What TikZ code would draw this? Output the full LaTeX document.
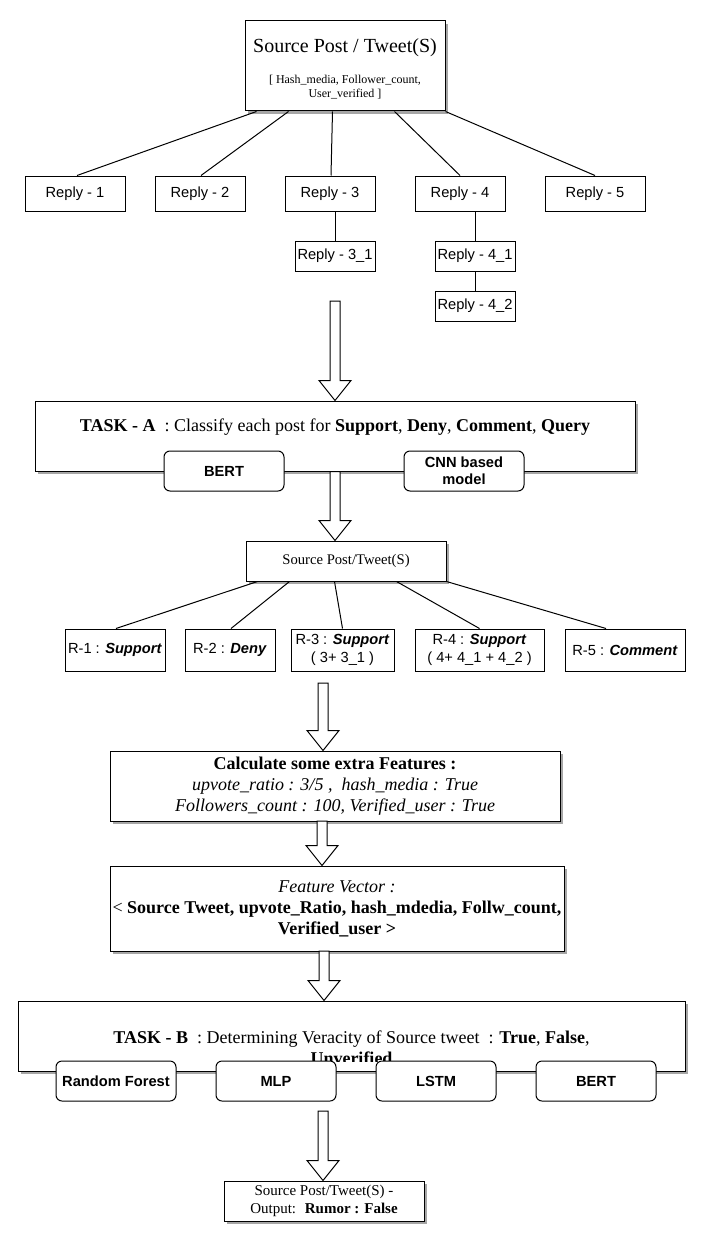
\documentclass[tikz,border=0pt]{standalone}
\usepackage{fontspec}
\setmainfont{Liberation Serif}
\setsansfont{Liberation Sans}
\usetikzlibrary{calc,shadows}
\tikzset{
  plain/.style={draw, line width=0.75pt, fill=white, inner sep=0pt, align=center},
  shad/.style={plain, drop shadow={shadow xshift=2.5pt, shadow yshift=-2.5pt, fill=black!35, opacity=1}},
  reply/.style={plain, font=\sffamily\fontsize{11}{13}\selectfont},
  model/.style={plain, rounded corners=4.5pt, font=\sffamily\bfseries\fontsize{11}{12.5}\selectfont},
  serifbig/.style={font=\fontsize{13.5}{15.75}\selectfont},
  link/.style={line width=0.75pt},
  hollow/.style={draw, line width=0.75pt, fill=white},
  sz/.style 2 args={minimum width=#1*0.75pt, minimum height=#2*0.75pt},
}
\newcommand\harrow[2]{\path[hollow] let \p1=(#1), \p2=(#2) in
  (\x1-3.75pt,\y1) -- (\x1+3.75pt,\y1) -- (\x1+3.75pt,\y2+15pt) -- (\x1+12pt,\y2+15pt)
  -- (\x1,\y2) -- (\x1-12pt,\y2+15pt) -- (\x1-3.75pt,\y2+15pt) -- cycle;}
\begin{document}
\begin{tikzpicture}[x=0.75pt,y=-0.75pt]
\useasboundingbox (0,0) rectangle (711,1259);
\fill[white] (0,0) rectangle (711,1259);

% top source
\node[shad, sz={200}{90}] (src) at (345,66) {};
\node[align=center, font=\fontsize{9}{10.5}\selectfont] (srct) at (345,69)
  {{\fontsize{15}{18}\selectfont Source Post / Tweet(S)}\\[13pt]
   [ Hash\_media, Follower\_count,\\ User\_verified ]};

% replies
\node[reply, sz={100}{35}] (r1) at (75,193.5) {Reply - 1};
\node[reply, sz={90}{35}] (r2) at (200,193.5) {Reply - 2};
\node[reply, sz={90}{35}] (r3) at (330,193.5) {Reply - 3};
\node[reply, sz={90}{35}] (r4) at (460,193.5) {Reply - 4};
\node[reply, sz={100}{35}] (r5) at (595,193.5) {Reply - 5};
\node[reply, sz={80}{30}] (r31) at (335,256) {Reply - 3\_1};
\node[reply, sz={80}{30}] (r41) at (475,256) {Reply - 4\_1};
\node[reply, sz={80}{30}] (r42) at (475,306) {Reply - 4\_2};

\draw[link] ($(src.south west)+(12,0)$) -- ($(r1.north)+(2,0)$);
\draw[link] ($(src.south west)+(44,0)$) -- ($(r2.north)+(1,0)$);
\draw[link] ($(src.south west)+(88,0)$) -- ($(r3.north)+(1,0)$);
\draw[link] ($(src.south west)+(150,0)$) -- (r4.north);
\draw[link] (src.south east) -- (r5.north);
\draw[link] (r31.north |- r3.south) -- (r31.north);
\draw[link] (r41.north |- r4.south) -- (r41.north);
\draw[link] (r41.south) -- (r42.north);

% task A
\node[shad, sz={600}{70}] (taskA) at (335,436) {};
\node[serifbig] (taskAt) at (335,427)
  {\textbf{TASK - A}~ : Classify each post for \textbf{Support}, \textbf{Deny}, \textbf{Comment}, \textbf{Query}};
\node[model, sz={120}{40}] (bertA) at (224,471) {BERT};
\node[model, sz={120}{40}] (cnn) at (464,471) {CNN based\\model};

\coordinate (a1s) at (335,301);
\harrow{a1s}{a1s |- taskA.north}

% middle source
\node[shad, sz={200}{40}, font=\fontsize{11}{13}\selectfont] (msrc) at (346,561) {Source Post/Tweet(S)};
\harrow{taskA.south}{taskA.south |- msrc.north}

\node[reply, sz={100}{42}] (s1) at (115,650) {R-1 : \textbf{\textit{Support}}};
\node[reply, sz={90}{42}] (s2) at (230,650) {R-2 : \textbf{\textit{Deny}}};
\node[reply, sz={103}{42}] (s3) at (342.5,650) {R-3 : \textbf{\textit{Support}}\\( 3+ 3\_1 )};
\node[reply, sz={129}{42}] (s4) at (479.5,650) {R-4 : \textbf{\textit{Support}}\\( 4+ 4\_1 + 4\_2 )};
\node[reply, sz={120}{42}] (s5) at (625,650) {R-5 : \textbf{\textit{Comment}}};

\draw[link] ($(msrc.south west)+(12,0)$) -- ($(s1.north)+(1,0)$);
\draw[link] ($(msrc.south west)+(44,0)$) -- ($(s2.north)+(1,0)$);
\draw[link] ($(msrc.south west)+(89,0)$) -- (s3.north);
\draw[link] ($(msrc.south west)+(151,0)$) -- (s4.north);
\draw[link] (msrc.south east) -- ($(s5.north)+(-19,0)$);

% features
\node[shad, sz={450}{70}, serifbig] (feat) at (335,786)
  {\textbf{Calculate some extra Features :}\\
   \textit{upvote\_ratio : 3/5 ,~ hash\_media : True}\\
   \textit{Followers\_count : 100, Verified\_user : True}};
\coordinate (a3s) at (323,683);
\harrow{a3s}{a3s |- feat.north}

\node[shad, sz={454}{85}, serifbig] (fvec) at (337,908.5)
  {\textit{Feature Vector :}\\
   < \textbf{Source Tweet, upvote\_Ratio, hash\_mdedia, Follw\_count,}\\
   \textbf{Verified\_user >}};
\coordinate (a4s) at (322,821);
\harrow{a4s}{a4s |- fvec.north}

% task B
\node[shad, sz={667}{70}] (taskB) at (351.5,1036) {};
\begin{scope}
\clip (18,1001) rectangle (685,1061);
\node[serifbig, align=center] (taskBt) at (351.5,1048)
  {\textbf{TASK - B}~ : Determining Veracity of Source tweet~ : \textbf{True}, \textbf{False},\\
   \textbf{Unverified}};
\end{scope}
\coordinate (a5s) at (324,951);
\harrow{a5s}{a5s |- taskB.north}

\node[model, sz={120}{40}] (rf) at (116,1081) {Random Forest};
\node[model, sz={120}{40}] (mlp) at (276,1081) {MLP};
\node[model, sz={120}{40}] (lstm) at (436,1081) {LSTM};
\node[model, sz={120}{40}] (bertB) at (596,1081) {BERT};

% output
\node[shad, sz={200}{40}, font=\fontsize{11.25}{13.5}\selectfont] (out) at (324,1201)
  {Source Post/Tweet(S) -\\ Output:~ \textbf{Rumor : False}};
\coordinate (a6s) at (323,1111);
\harrow{a6s}{a6s |- out.north}
\end{tikzpicture}
\end{document}
